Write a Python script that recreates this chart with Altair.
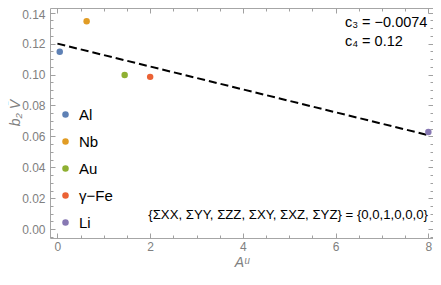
import altair as alt
import pandas as pd

# ---- data ----
materials = ["Al", "Nb", "Au", "γ−Fe", "Li"]
a_u = [0.05, 0.63, 1.45, 2.0, 8.0]
b2_v = [0.1148, 0.1345, 0.0997, 0.0985, 0.0629]
colors = ["#5E81B5", "#E19C24", "#8FB032", "#EB6235", "#8778B3"]

c3 = -0.0074
c4 = 0.12
fit_x = [0.0, 8.0]
fit_y = [c4 + c3 * v for v in fit_x]

note_text = ["c₃ = −0.0074", "c₄ = 0.12",
             "{ΣXX, ΣYY, ΣZZ, ΣXY, ΣXZ, ΣYZ} = {0,0,1,0,0,0}"]
note_x = [6.2, 6.2, 1.96]
note_y = [0.1331, 0.1213, 0.0092]
note_size = [14.5, 14.5, 13.2]

x_major = [0, 2, 4, 6, 8]
x_all = [0, 0.5, 1, 1.5, 2, 2.5, 3, 3.5, 4, 4.5, 5, 5.5, 6, 6.5, 7, 7.5, 8]
y_major = [0.0, 0.02, 0.04, 0.06, 0.08, 0.10, 0.12, 0.14]
y_all = [-0.005, 0.0, 0.005, 0.01, 0.015, 0.02, 0.025, 0.03, 0.035, 0.04,
         0.045, 0.05, 0.055, 0.06, 0.065, 0.07, 0.075, 0.08, 0.085, 0.09,
         0.095, 0.10, 0.105, 0.11, 0.115, 0.12, 0.125, 0.13, 0.135, 0.14]

W, H = 383, 230
FONT = "Liberation Sans"
GRAY = "#808080"
FRAME = "#a6a6a6"
TICK = "#a0a0a0"

pts_df = pd.DataFrame({"a": a_u, "b": b2_v, "m": materials})
fit_df = pd.DataFrame({"x": fit_x, "y": fit_y})
note_df = pd.DataFrame({"x": note_x, "y": note_y, "t": note_text, "s": note_size})

xs = alt.Scale(domain=[-0.16, 8.1], nice=False, zero=False)
ys = alt.Scale(domain=[-0.0057, 0.14304], nice=False, zero=False)

x_tick_size = {"condition": {"test": "datum.value % 2 == 0", "value": 5}, "value": 3}
y_tick_size = {"condition": {"test": "abs(datum.value / 0.02 - round(datum.value / 0.02)) < 0.001",
                             "value": 5}, "value": 3}
top_label_shift = {"condition": {"test": "datum.value > 0.139", "value": 2}, "value": 0}


def tick_axis(orient, offset, values, size):
    return alt.Axis(orient=orient, offset=offset, values=values, labels=False,
                    domain=False, grid=False, ticks=True, tickColor=TICK,
                    tickSize=size, title=None)


points = alt.Chart(pts_df).mark_circle(size=42, opacity=1).encode(
    x=alt.X("a:Q", scale=xs, axis=alt.Axis(
        orient="bottom", values=x_major, ticks=False, domain=False, grid=False,
        labelColor=GRAY, labelFont=FONT, labelFontSize=12, labelPadding=3,
        title="Aᵘ", titleFont=FONT, titleFontSize=14, titleFontStyle="italic",
        titleFontWeight="normal", titleColor=GRAY, titlePadding=3)),
    y=alt.Y("b:Q", scale=ys, axis=alt.Axis(
        orient="left", values=y_major, format=".2f", ticks=False, domain=False,
        grid=False, labelColor=GRAY, labelFont=FONT, labelFontSize=12,
        labelPadding=5, labelOffset=top_label_shift,
        title="b₂ V̄", titleFont=FONT, titleFontSize=14,
        titleFontStyle="italic", titleFontWeight="normal", titleColor=GRAY,
        titleAngle=270, titleX=-35, titleY=104.5, titleAlign="center",
        titleBaseline="middle")),
    color=alt.Color("m:N", scale=alt.Scale(domain=materials, range=colors),
                    legend=alt.Legend(
                        title=None, orient="none", legendX=8, legendY=99,
                        labelFontSize=15, labelColor="black", labelFont=FONT,
                        symbolSize=42, symbolType="circle", rowPadding=11,
                        labelOffset=6, padding=0, symbolStrokeWidth=0,
                        symbolOpacity=1)),
)

line = alt.Chart(fit_df).mark_line(color="black", strokeWidth=2, strokeDash=[8, 4]).encode(
    x=alt.X("x:Q", scale=xs, axis=tick_axis("top", -H, x_all, x_tick_size)),
    y=alt.Y("y:Q", scale=ys, axis=tick_axis("right", -W, y_all, y_tick_size)),
)

notes = alt.Chart(note_df).mark_text(align="left", baseline="middle", font=FONT,
                                     color="black").encode(
    x=alt.X("x:Q", scale=xs, axis=tick_axis("bottom", -H, x_all, x_tick_size)),
    y=alt.Y("y:Q", scale=ys, axis=tick_axis("left", -W, y_all, y_tick_size)),
    text="t:N",
    size=alt.Size("s:Q", scale=None),
)

chart = alt.layer(line, points, notes).resolve_axis(
    x="independent", y="independent"
).properties(
    width=W, height=H,
    padding={"left": 42, "top": 0, "right": 0, "bottom": 34},
    autosize=alt.AutoSizeParams(type="none"),
    background="white",
).configure_view(stroke=FRAME, strokeWidth=1)

chart.save("out.html", embed_options={"renderer": "svg", "actions": False})
